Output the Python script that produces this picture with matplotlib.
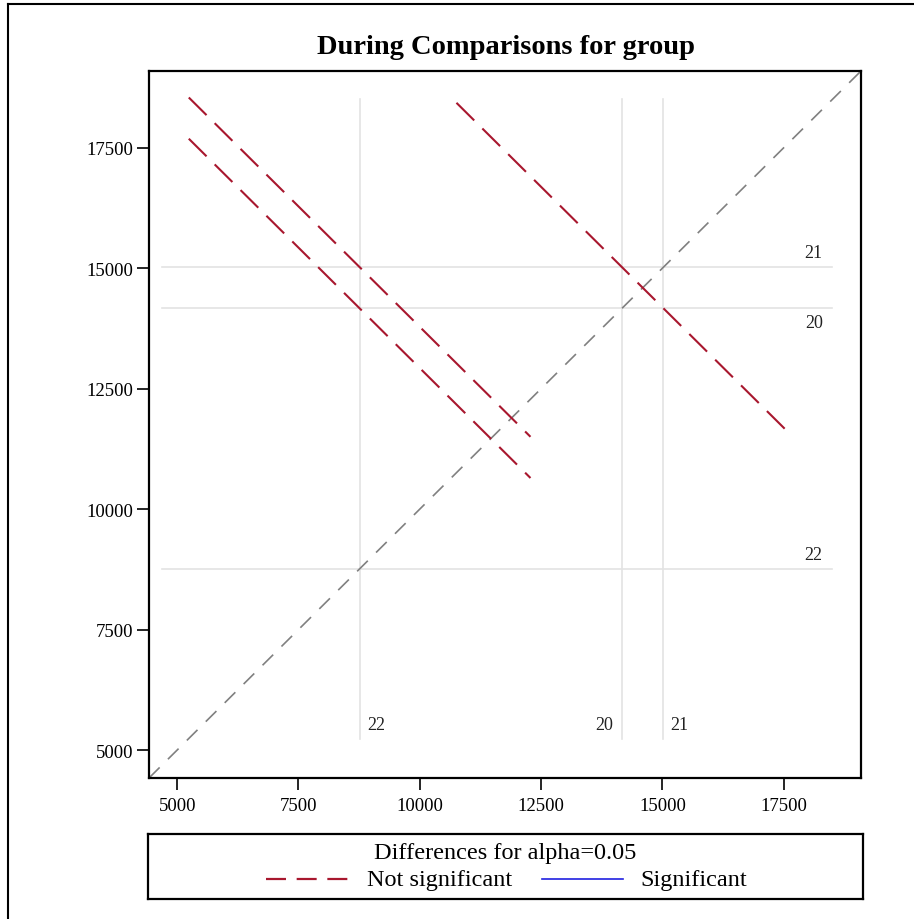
import matplotlib
matplotlib.use("Agg")
import matplotlib.pyplot as plt
from matplotlib.lines import Line2D

# ---- data ----
groups = ["20", "21", "22"]
means = [14165, 15020, 8760]
# pairwise comparisons: (x group, y group, half-width of difference interval)
pair_x = ["22", "22", "20"]
pair_y = ["21", "20", "21"]
half_width = [3520, 3520, 3410]
significant = [False, False, False]
axis_min, axis_max = 4420, 19090
xticks = [5000, 7500, 10000, 12500, 15000, 17500]
yticks = [5000, 7500, 10000, 12500, 15000, 17500]
ref_lo, ref_hi = 5230, 18500

plt.rcParams["font.family"] = ["Liberation Serif", "DejaVu Serif"]

W, H = 914, 920
fig = plt.figure(figsize=(W / 100, H / 100), dpi=100)

# outer border (left & top)
fig.add_artist(Line2D([8 / W, 8 / W], [0, 1 - 5 / H], color="black", lw=1.5, transform=fig.transFigure))
fig.add_artist(Line2D([8 / W, 1], [1 - 5 / H, 1 - 5 / H], color="black", lw=1.5, transform=fig.transFigure))

ax = fig.add_axes([149 / W, 1 - 779 / H, 712 / W, 707 / H])
ax.set_xlim(axis_min, axis_max)
ax.set_ylim(axis_min, axis_max)

red = "#A8172E"
blue = "#2020E0"
refc = "#E3E3E3"

mean_of = dict(zip(groups, means))

# reference lines and labels
for g, m in zip(groups, means):
    ax.plot([m, m], [ref_lo, ref_hi], color=refc, lw=1.2, zorder=1)
    ax.plot([4690, ref_hi], [m, m], color=refc, lw=1.2, zorder=1)

lab_kw = dict(fontsize=13, color="#222222")
# horizontal line labels (right side)
ax.text(18300, mean_of["21"] + 120, "21", ha="right", va="bottom", **lab_kw)
ax.text(18300, mean_of["20"] - 120, "20", ha="right", va="top", **lab_kw)
ax.text(18300, mean_of["22"] + 120, "22", ha="right", va="bottom", **lab_kw)
# vertical line labels (bottom)
ax.text(mean_of["22"] + 150, 5530, "22", ha="left", va="center", **lab_kw)
ax.text(mean_of["20"] - 180, 5530, "20", ha="right", va="center", **lab_kw)
ax.text(mean_of["21"] + 150, 5530, "21", ha="left", va="center", **lab_kw)

# diagonal
ax.plot([axis_min, axis_max], [axis_min, axis_max], color="#808080", lw=1.2,
        dashes=(9, 7), zorder=2)

# diffogram segments
for gx, gy, hw, sig in zip(pair_x, pair_y, half_width, significant):
    cx, cy = mean_of[gx], mean_of[gy]
    if sig:
        ax.plot([cx - hw, cx + hw], [cy + hw, cy - hw], color=blue, lw=1.2, zorder=3)
    else:
        ax.plot([cx - hw, cx + hw], [cy + hw, cy - hw], color=red, lw=1.5,
                dashes=(12, 5.5), zorder=3)

ax.set_xticks(xticks)
ax.set_yticks(yticks)
ax.set_xticklabels([str(t) for t in xticks], fontsize=13.5)
ax.set_yticklabels([str(t) for t in yticks], fontsize=13.5)
ax.tick_params(direction="out", length=8.5, width=1.2)
ax.tick_params(axis="x", pad=5)
ax.tick_params(axis="y", pad=3)
for s in ax.spines.values():
    s.set_linewidth(1.6)

fig.text(506 / W, 1 - 47 / H, "During Comparisons for group", ha="center", va="center",
         fontsize=20.5, fontweight="bold")

# legend box
lax = fig.add_axes([148 / W, 1 - 900 / H, 715 / W, 65 / H])
lax.set_xlim(0, 715)
lax.set_ylim(65, 0)
lax.set_xticks([])
lax.set_yticks([])
for s in lax.spines.values():
    s.set_linewidth(1.6)
lax.text(357, 19, "Differences for alpha=0.05", ha="center", va="center", fontsize=17.5)
lax.plot([118, 200], [45, 45], color=red, lw=1.6, dashes=(9, 4.8))
lax.text(219, 46, "Not significant", ha="left", va="center", fontsize=17.5)
lax.plot([394, 475], [45, 45], color=blue, lw=1.2)
lax.text(492, 46, "Significant", ha="left", va="center", fontsize=17.5)

fig.savefig("out.png", dpi=100)
